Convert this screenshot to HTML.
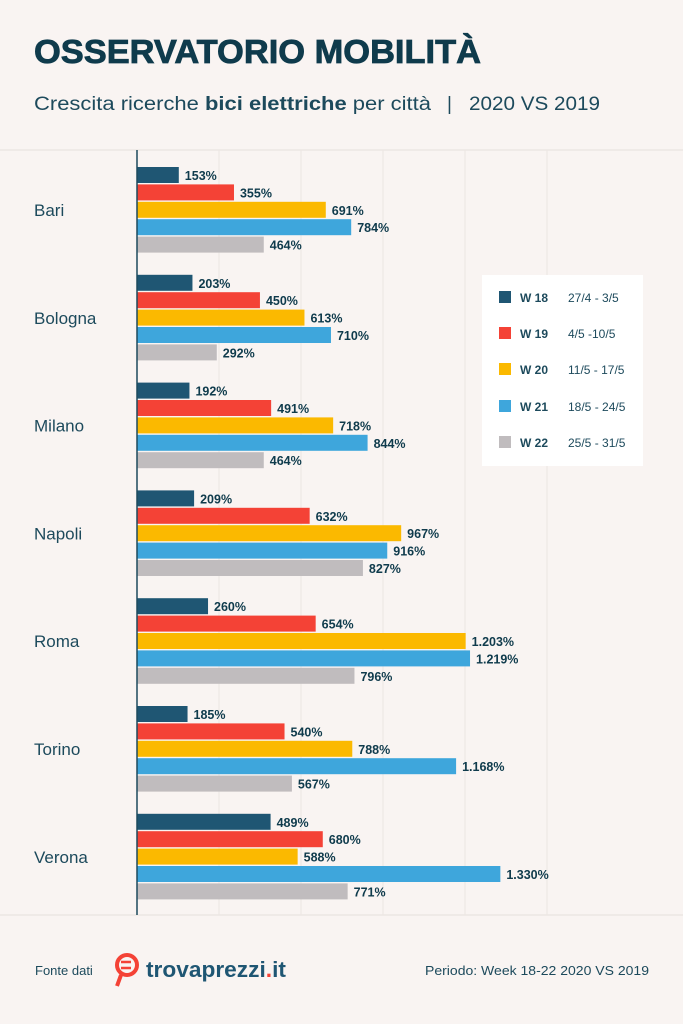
<!DOCTYPE html>
<html><head><meta charset="utf-8"><style>
body{margin:0;background:#f9f4f2;}
svg{display:block;font-family:"Liberation Sans",sans-serif;}
</style></head><body>
<svg width="683" height="1024" viewBox="0 0 683 1024">
<rect width="683" height="1024" fill="#f9f4f2"/>
<text x="34" y="63" font-size="33" font-weight="bold" fill="#0f3b4c" stroke="#0f3b4c" stroke-width="0.8" textLength="447" lengthAdjust="spacingAndGlyphs">OSSERVATORIO MOBILITÀ</text>
<text x="34" y="110" font-size="19" fill="#1d4a5c" textLength="397" lengthAdjust="spacingAndGlyphs">Crescita ricerche <tspan font-weight="bold">bici elettriche</tspan> per città</text>
<text x="447" y="110" font-size="19" fill="#1d4a5c">|</text>
<text x="469" y="110" font-size="19" fill="#1d4a5c" textLength="131" lengthAdjust="spacingAndGlyphs">2020 VS 2019</text>
<line x1="0" y1="150" x2="683" y2="150" stroke="#ece6e3" stroke-width="1.5"/>
<line x1="0" y1="915" x2="683" y2="915" stroke="#ece6e3" stroke-width="1.5"/>
<g stroke="#ece6e3" stroke-width="1">
<line x1="219" y1="150" x2="219" y2="915"/><line x1="301" y1="150" x2="301" y2="915"/>
<line x1="383" y1="150" x2="383" y2="915"/><line x1="465" y1="150" x2="465" y2="915"/>
<line x1="547" y1="150" x2="547" y2="915"/>
</g>
<g id="bars"></g>
<line x1="137" y1="150" x2="137" y2="915" stroke="#1d4a5c" stroke-width="1.5"/>
<rect x="482" y="275" width="161" height="191" fill="#ffffff"/>
<g font-size="12" fill="#1d4a5c">
<rect x="499" y="291" width="12" height="12" fill="#1f5673"/><text x="520" y="302" font-weight="bold">W 18</text><text x="568" y="302">27/4 - 3/5</text>
<rect x="499" y="327" width="12" height="12" fill="#f44236"/><text x="520" y="338" font-weight="bold">W 19</text><text x="568" y="338">4/5 -10/5</text>
<rect x="499" y="363" width="12" height="12" fill="#fbb900"/><text x="520" y="374" font-weight="bold">W 20</text><text x="568" y="374">11/5 - 17/5</text>
<rect x="499" y="400" width="12" height="12" fill="#3ea6dc"/><text x="520" y="411" font-weight="bold">W 21</text><text x="568" y="411">18/5 - 24/5</text>
<rect x="499" y="436" width="12" height="12" fill="#c0bcbe"/><text x="520" y="447" font-weight="bold">W 22</text><text x="568" y="447">25/5 - 31/5</text>
</g>
<text x="35" y="975" font-size="13" fill="#1d4a5c">Fonte dati</text>
<circle cx="127" cy="965" r="10" fill="none" stroke="#f44236" stroke-width="4"/>
<line x1="121" y1="975" x2="117" y2="986" stroke="#f44236" stroke-width="4"/>
<line x1="121" y1="962" x2="131" y2="962" stroke="#f44236" stroke-width="2.5"/>
<line x1="121" y1="968" x2="131" y2="968" stroke="#f44236" stroke-width="2.5"/>
<text x="146" y="977" font-size="22" font-weight="bold" fill="#1f5673" textLength="140" lengthAdjust="spacingAndGlyphs">trovaprezzi<tspan fill="#f44236">.</tspan>it</text>
<text x="425" y="975" font-size="13" fill="#1d4a5c" textLength="224" lengthAdjust="spacingAndGlyphs">Periodo: Week 18-22 2020 VS 2019</text>
</svg>
<script>
var data=[["Bari",[153,355,691,784,464]],["Bologna",[203,450,613,710,292]],["Milano",[192,491,718,844,464]],["Napoli",[209,632,967,916,827]],["Roma",[260,654,1203,1219,796]],["Torino",[185,540,788,1168,567]],["Verona",[489,680,588,1330,771]]];
var cols=["#1f5673","#f44236","#fbb900","#3ea6dc","#c0bcbe"];
var s="",k=0.2732;
function fmt(v){var t=String(v);return v>=1000?t[0]+"."+t.slice(1):t;}
data.forEach(function(d,i){var y0=167+i*107.8;
s+='<text x="34" y="'+(y0+49)+'" font-size="17" fill="#1d4a5c">'+d[0]+'</text>';
d[1].forEach(function(v,j){var y=y0+j*17.4,w=v*k;
s+='<rect x="137" y="'+y+'" width="'+w+'" height="16" fill="'+cols[j]+'"/>';
s+='<text x="'+(137+w+6)+'" y="'+(y+13)+'" font-size="12.5" font-weight="bold" fill="#0f3b4c">'+fmt(v)+'%</text>';});});
document.getElementById("bars").innerHTML=s;
</script>
</body></html>
